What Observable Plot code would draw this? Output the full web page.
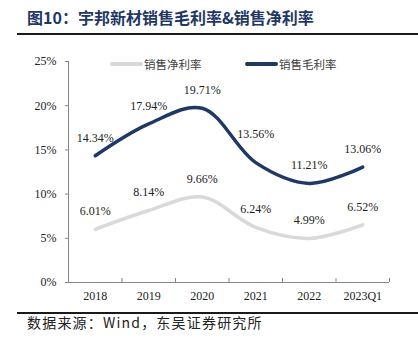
<!DOCTYPE html>
<html>
<head>
<meta charset="utf-8">
<script src="https://cdn.jsdelivr.net/npm/d3@7"></script>
<script src="https://cdn.jsdelivr.net/npm/@observablehq/plot@0.6"></script>
<style>
  html, body { margin: 0; padding: 0; background: #fff; }
  #wrap { position: relative; width: 418px; height: 356px; overflow: hidden; }
  .title { position: absolute; left: 27px; top: 6px; font-family: "Noto Sans CJK SC", sans-serif; font-weight: 700; font-size: 16px; color: #1f3864; white-space: nowrap; line-height: 22px; }
  .hr { position: absolute; left: 17px; width: 401px; height: 2px; background: #1a1a1a; }
  .caption { position: absolute; left: 27px; font-family: "Noto Sans CJK SC", sans-serif; font-size: 14px; letter-spacing: 1.2px; color: #222; white-space: nowrap; line-height: 20px; }
  .legend { position: absolute; top: 56px; font-family: "Noto Sans CJK SC", sans-serif; font-size: 11.5px; color: #404040; white-space: nowrap; line-height: 16px; display: flex; align-items: center; }
  .legend .sw { display: inline-block; width: 33px; height: 3.5px; border-radius: 2px; margin-right: 1px; }
  #chart { position: absolute; left: 0; top: 40px; }
</style>
</head>
<body>
<div id="wrap">
  <div class="title">图10：宇邦新材销售毛利率&amp;销售净利率</div>
  <div class="hr" style="top:33px"></div>
  <div class="legend" id="leg1" style="left:110px"></div>
  <div class="legend" id="leg2" style="left:245px"></div>
  <div id="chart"></div>
  <div class="hr" style="top:312px"></div>
  <div class="caption" style="top:312px">数据来源：Wind，东吴证券研究所</div>
</div>
<script>
const years = ["2018", "2019", "2020", "2021", "2022", "2023Q1"];
const grossMargin = [14.34, 17.94, 19.71, 13.56, 11.21, 13.06];
const netMargin = [6.01, 8.14, 9.66, 6.24, 4.99, 6.52];
const yTicks = [0, 5, 10, 15, 20, 25];
const seriesNames = ["销售净利率", "销售毛利率"];
const colors = { net: "#d9d9d9", gross: "#1f3864" };

const rows = years.map((year, i) => ({ i, year, gross: grossMargin[i], net: netMargin[i] }));
const xc = d => d.i + 0.5;
const axisColor = "#868686";

const legendItems = [["leg1", seriesNames[0], colors.net], ["leg2", seriesNames[1], colors.gross]];
for (const [id, name, color] of legendItems) {
  const el = document.getElementById(id);
  el.innerHTML = `<span class="sw" style="background:${color}"></span><span>${name}</span>`;
}

const chart = Plot.plot({
  width: 418,
  height: 270,
  marginTop: 21,
  marginBottom: 28,
  marginLeft: 68,
  marginRight: 29,
  style: { fontFamily: "'Liberation Serif', 'Times New Roman', serif", fontSize: "12px", color: "#222", background: "transparent" },
  x: { domain: [0, years.length] },
  y: { domain: [0, 25] },
  marks: [
    Plot.axisY({ ticks: yTicks, tickFormat: d => d + "%", tickSize: 3, tickPadding: 9, stroke: axisColor, fill: "#222" }),
    Plot.ruleX([0], { y1: 0, y2: 25, stroke: axisColor }),
    Plot.ruleY([0], { x1: 0, x2: years.length, stroke: axisColor }),
    Plot.ruleX(d3.range(1, years.length + 1), { y1: 0, y2: 0, insetTop: -4, stroke: axisColor }),
    Plot.axisX({ ticks: rows.map(xc), tickFormat: v => years[Math.floor(v)], tickSize: 0, tickPadding: 9, fill: "#222" }),
    Plot.line(rows, { x: xc, y: "net", curve: "catmull-rom", stroke: colors.net, strokeWidth: 3.5, strokeLinecap: "round" }),
    Plot.line(rows, { x: xc, y: "gross", curve: "catmull-rom", stroke: colors.gross, strokeWidth: 3.5, strokeLinecap: "round" }),
    Plot.text(rows, { x: xc, y: "net", text: d => d.net.toFixed(2) + "%", dy: -18, fill: "#222" }),
    Plot.text(rows, { filter: d => d.year !== "2021", x: xc, y: "gross", text: d => d.gross.toFixed(2) + "%", dy: -18, fill: "#222" }),
    Plot.text(rows, { filter: d => d.year === "2021", x: xc, y: "gross", text: d => d.gross.toFixed(2) + "%", dy: -28, fill: "#222" })
  ]
});
document.getElementById("chart").appendChild(chart);
</script>
</body>
</html>
